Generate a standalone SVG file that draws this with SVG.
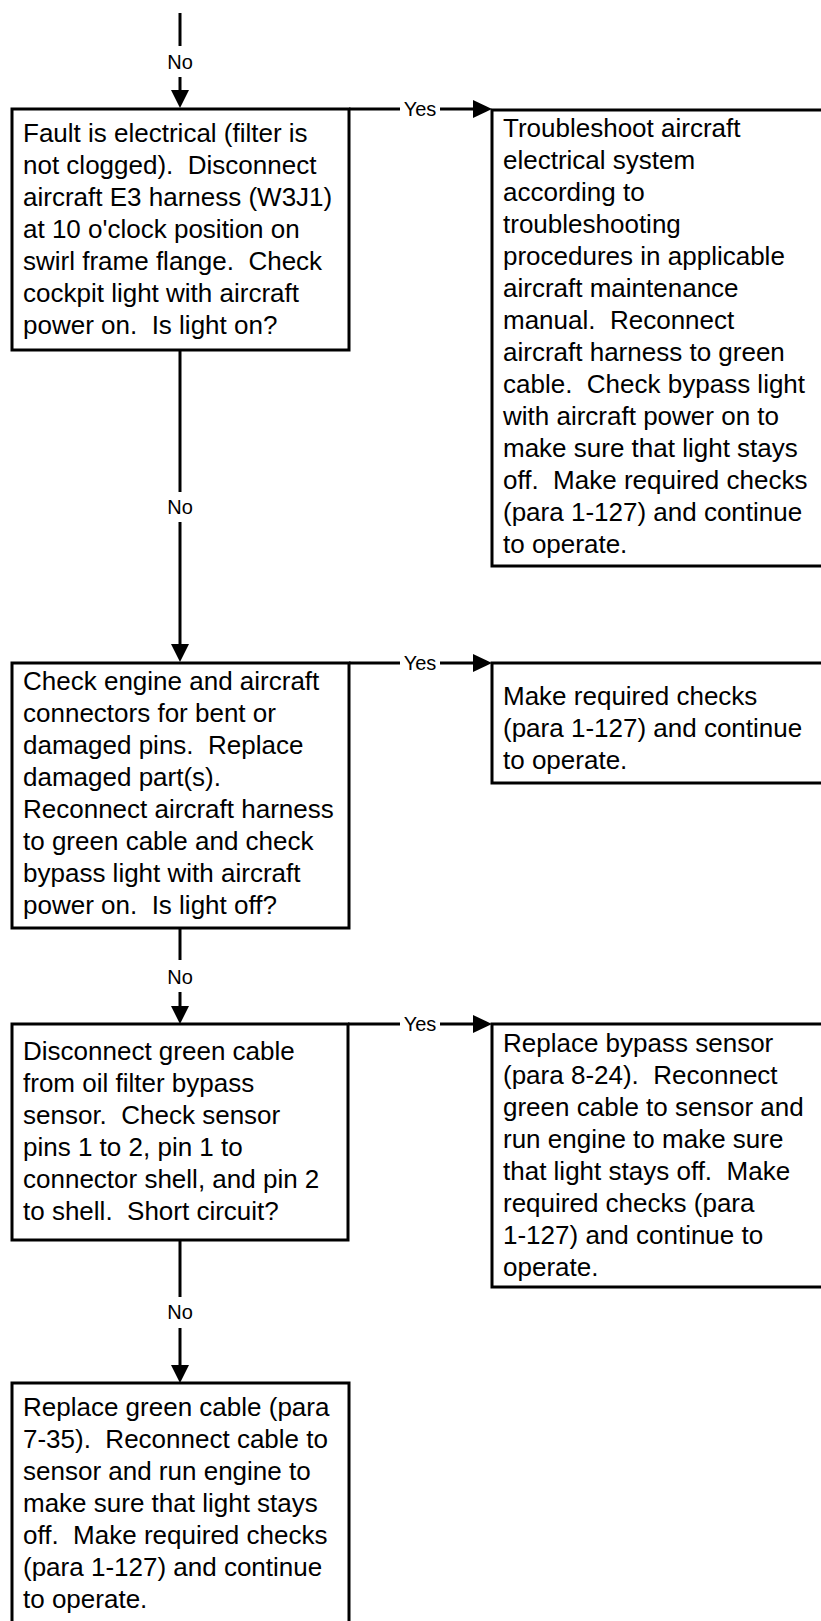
<svg xmlns="http://www.w3.org/2000/svg" width="821" height="1621" viewBox="0 0 821 1621">
  <style>
    .box { fill: #fff; stroke: #000; stroke-width: 3; }
    .wire { fill: none; stroke: #000; stroke-width: 3; }
    .head { fill: #000; }
    .txt { font-family: "Liberation Sans", Arial, sans-serif; font-size: 26px; fill: #000; }
    .txt tspan { white-space: pre; }
    .lbl { font-family: "Liberation Sans", Arial, sans-serif; font-size: 20px; fill: #000; text-anchor: middle; }
  </style>

  <!-- connectors -->
  <g id="connectors">
    <!-- incoming No at the top -->
    <line class="wire" x1="180" y1="13" x2="180" y2="46"/>
    <text class="lbl" x="180" y="69">No</text>
    <line class="wire" x1="180" y1="77" x2="180" y2="92"/>
    <polygon class="head" points="171,90 189,90 180,108"/>

    <!-- step 1 Yes -->
    <line class="wire" x1="349" y1="109" x2="400" y2="109" stroke-width="2.5"/>
    <text class="lbl" x="420" y="116">Yes</text>
    <line class="wire" x1="440" y1="109" x2="476" y2="109" stroke-width="2.5"/>
    <polygon class="head" points="473,100 492,109 473,118"/>

    <!-- step 1 No -->
    <line class="wire" x1="180" y1="350" x2="180" y2="492"/>
    <text class="lbl" x="180" y="514">No</text>
    <line class="wire" x1="180" y1="522" x2="180" y2="646"/>
    <polygon class="head" points="171,644 189,644 180,662"/>

    <!-- step 2 Yes -->
    <line class="wire" x1="349" y1="663" x2="400" y2="663" stroke-width="2.5"/>
    <text class="lbl" x="420" y="670">Yes</text>
    <line class="wire" x1="440" y1="663" x2="476" y2="663" stroke-width="2.5"/>
    <polygon class="head" points="473,654 492,663 473,672"/>

    <!-- step 2 No -->
    <line class="wire" x1="180" y1="928" x2="180" y2="960"/>
    <text class="lbl" x="180" y="984">No</text>
    <line class="wire" x1="180" y1="992" x2="180" y2="1008"/>
    <polygon class="head" points="171,1006 189,1006 180,1024"/>

    <!-- step 3 Yes -->
    <line class="wire" x1="348" y1="1024" x2="400" y2="1024" stroke-width="2.5"/>
    <text class="lbl" x="420" y="1031">Yes</text>
    <line class="wire" x1="440" y1="1024" x2="476" y2="1024" stroke-width="2.5"/>
    <polygon class="head" points="473,1015 492,1024 473,1033"/>

    <!-- step 3 No -->
    <line class="wire" x1="180" y1="1240" x2="180" y2="1297"/>
    <text class="lbl" x="180" y="1319">No</text>
    <line class="wire" x1="180" y1="1328" x2="180" y2="1367"/>
    <polygon class="head" points="171,1365 189,1365 180,1383"/>
  </g>

  <g id="step1">
    <rect class="box" x="12" y="109" width="337" height="241"/>
    <text class="txt">
      <tspan x="23" y="142">Fault is electrical (filter is</tspan>
      <tspan x="23" y="174">not clogged).  Disconnect</tspan>
      <tspan x="23" y="206">aircraft E3 harness (W3J1)</tspan>
      <tspan x="23" y="238">at 10 o'clock position on</tspan>
      <tspan x="23" y="270">swirl frame flange.  Check</tspan>
      <tspan x="23" y="302">cockpit light with aircraft</tspan>
      <tspan x="23" y="334">power on.  Is light on?</tspan>
    </text>
  </g>

  <g id="result1">
    <rect class="box" x="492" y="110" width="350" height="456"/>
    <text class="txt">
      <tspan x="503" y="137">Troubleshoot aircraft</tspan>
      <tspan x="503" y="169">electrical system</tspan>
      <tspan x="503" y="201">according to</tspan>
      <tspan x="503" y="233">troubleshooting</tspan>
      <tspan x="503" y="265">procedures in applicable</tspan>
      <tspan x="503" y="297">aircraft maintenance</tspan>
      <tspan x="503" y="329">manual.  Reconnect</tspan>
      <tspan x="503" y="361">aircraft harness to green</tspan>
      <tspan x="503" y="393">cable.  Check bypass light</tspan>
      <tspan x="503" y="425">with aircraft power on to</tspan>
      <tspan x="503" y="457">make sure that light stays</tspan>
      <tspan x="503" y="489">off.  Make required checks</tspan>
      <tspan x="503" y="521">(para 1-127) and continue</tspan>
      <tspan x="503" y="553">to operate.</tspan>
    </text>
  </g>

  <g id="step2">
    <rect class="box" x="12" y="663" width="337" height="265"/>
    <text class="txt">
      <tspan x="23" y="690">Check engine and aircraft</tspan>
      <tspan x="23" y="722">connectors for bent or</tspan>
      <tspan x="23" y="754">damaged pins.  Replace</tspan>
      <tspan x="23" y="786">damaged part(s).</tspan>
      <tspan x="23" y="818">Reconnect aircraft harness</tspan>
      <tspan x="23" y="850">to green cable and check</tspan>
      <tspan x="23" y="882">bypass light with aircraft</tspan>
      <tspan x="23" y="914">power on.  Is light off?</tspan>
    </text>
  </g>

  <g id="result2">
    <rect class="box" x="492" y="663" width="350" height="120"/>
    <text class="txt">
      <tspan x="503" y="705">Make required checks</tspan>
      <tspan x="503" y="737">(para 1-127) and continue</tspan>
      <tspan x="503" y="769">to operate.</tspan>
    </text>
  </g>

  <g id="step3">
    <rect class="box" x="12" y="1024" width="336" height="216"/>
    <text class="txt">
      <tspan x="23" y="1060">Disconnect green cable</tspan>
      <tspan x="23" y="1092">from oil filter bypass</tspan>
      <tspan x="23" y="1124">sensor.  Check sensor</tspan>
      <tspan x="23" y="1156">pins 1 to 2, pin 1 to</tspan>
      <tspan x="23" y="1188">connector shell, and pin 2</tspan>
      <tspan x="23" y="1220">to shell.  Short circuit?</tspan>
    </text>
  </g>

  <g id="result3">
    <rect class="box" x="492" y="1024" width="350" height="263"/>
    <text class="txt">
      <tspan x="503" y="1052">Replace bypass sensor</tspan>
      <tspan x="503" y="1084">(para 8-24).  Reconnect</tspan>
      <tspan x="503" y="1116">green cable to sensor and</tspan>
      <tspan x="503" y="1148">run engine to make sure</tspan>
      <tspan x="503" y="1180">that light stays off.  Make</tspan>
      <tspan x="503" y="1212">required checks (para</tspan>
      <tspan x="503" y="1244">1-127) and continue to</tspan>
      <tspan x="503" y="1276">operate.</tspan>
    </text>
  </g>

  <g id="step4">
    <rect class="box" x="12" y="1383" width="337" height="260"/>
    <text class="txt">
      <tspan x="23" y="1416">Replace green cable (para</tspan>
      <tspan x="23" y="1448">7-35).  Reconnect cable to</tspan>
      <tspan x="23" y="1480">sensor and run engine to</tspan>
      <tspan x="23" y="1512">make sure that light stays</tspan>
      <tspan x="23" y="1544">off.  Make required checks</tspan>
      <tspan x="23" y="1576">(para 1-127) and continue</tspan>
      <tspan x="23" y="1608">to operate.</tspan>
    </text>
  </g>
</svg>
